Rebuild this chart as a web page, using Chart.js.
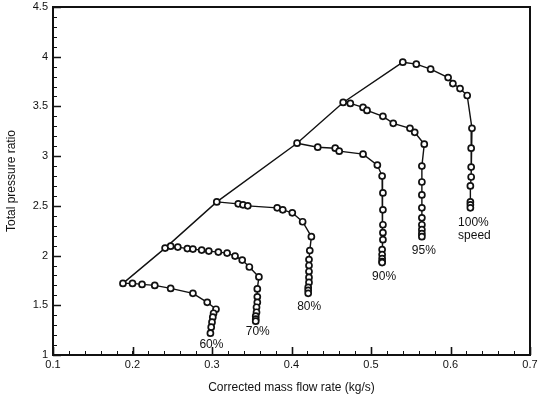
<!DOCTYPE html>
<html>
<head>
<meta charset="utf-8">
<script src="https://cdn.jsdelivr.net/npm/chart.js@4.4.0/dist/chart.umd.min.js"></script>
<style>
  html, body { margin: 0; padding: 0; background: #fff; }
  canvas { display: block; }
</style>
</head>
<body>
<canvas id="map" width="538" height="401"></canvas>
<script>
// Compressor map: total pressure ratio vs corrected mass flow, one line per speed
const speedNames = ['60%', '70%', '80%', '90%', '95%', '100%'];

const flow60  = [0.188, 0.200, 0.212, 0.228, 0.248, 0.276, 0.294, 0.305, 0.302, 0.301, 0.300, 0.299, 0.298];
const ratio60 = [1.72, 1.72, 1.71, 1.70, 1.67, 1.62, 1.53, 1.46, 1.42, 1.38, 1.33, 1.28, 1.22];

const flow70  = [0.241, 0.248, 0.257, 0.269, 0.276, 0.287, 0.296, 0.308, 0.319, 0.329, 0.338, 0.347, 0.359,
                 0.357, 0.357, 0.357, 0.356, 0.356, 0.355, 0.355, 0.355];
const ratio70 = [2.075, 2.095, 2.085, 2.07, 2.065, 2.055, 2.045, 2.035, 2.025, 1.995, 1.955, 1.885, 1.785,
                 1.665, 1.585, 1.53, 1.48, 1.43, 1.39, 1.36, 1.34];

const flow80  = [0.306, 0.333, 0.339, 0.345, 0.382, 0.389, 0.401, 0.414, 0.425, 0.423, 0.422, 0.422, 0.422,
                 0.422, 0.422, 0.421, 0.421, 0.421];
const ratio80 = [2.54, 2.52, 2.51, 2.50, 2.48, 2.46, 2.43, 2.34, 2.19, 2.05, 1.96, 1.90, 1.84,
                 1.78, 1.73, 1.68, 1.65, 1.62];

const flow90  = [0.407, 0.433, 0.455, 0.460, 0.490, 0.508, 0.514, 0.515, 0.515, 0.515, 0.515, 0.515,
                 0.514, 0.514, 0.514, 0.514, 0.514];
const ratio90 = [3.13, 3.09, 3.08, 3.05, 3.02, 2.91, 2.80, 2.63, 2.46, 2.31, 2.23, 2.16,
                 2.06, 2.01, 1.97, 1.94, 1.93];

const flow95  = [0.465, 0.474, 0.490, 0.495, 0.515, 0.528, 0.549, 0.555, 0.567, 0.564, 0.564, 0.564,
                 0.564, 0.564, 0.564, 0.564, 0.564, 0.564];
const ratio95 = [3.54, 3.53, 3.49, 3.46, 3.40, 3.33, 3.28, 3.24, 3.12, 2.90, 2.74, 2.61,
                 2.48, 2.38, 2.31, 2.26, 2.22, 2.19];

const flow100  = [0.540, 0.557, 0.575, 0.597, 0.603, 0.612, 0.621, 0.627, 0.626, 0.626, 0.626,
                  0.625, 0.625, 0.625, 0.625];
const ratio100 = [3.945, 3.925, 3.875, 3.79, 3.73, 3.68, 3.61, 3.28, 3.08, 2.89, 2.79,
                  2.70, 2.54, 2.51, 2.48];

const xTicks = [0.1, 0.2, 0.3, 0.4, 0.5, 0.6, 0.7];
const yTicks = [1, 1.5, 2, 2.5, 3, 3.5, 4, 4.5];

const speedFlows  = [flow60, flow70, flow80, flow90, flow95, flow100];
const speedRatios = [ratio60, ratio70, ratio80, ratio90, ratio95, ratio100];

const toPoints = (xs, ys) => xs.map((x, i) => ({ x: x, y: ys[i] }));

// Surge line joins the first (left-most) point of every speed line
const surgeLine = speedFlows.map((f, i) => ({ x: f[0], y: speedRatios[i][0] }));

const FONT = '"Liberation Sans", Arial, sans-serif';
const INK = '#111';

const datasets = speedFlows.map((f, i) => ({
  label: speedNames[i],
  data: toPoints(f, speedRatios[i]),
  showLine: true,
  borderColor: INK,
  borderWidth: 1.4,
  pointStyle: 'circle',
  pointRadius: 3,
  pointBorderWidth: 1.7,
  pointBorderColor: INK,
  pointBackgroundColor: '#fff',
  tension: 0
}));
datasets.push({
  label: 'surge',
  data: surgeLine,
  showLine: true,
  borderColor: INK,
  borderWidth: 1.4,
  pointRadius: 0,
  tension: 0
});

// Frame, inward major/minor tick marks and the speed captions
const mapDecor = {
  id: 'mapDecor',
  afterDatasetsDraw(chart) {
    const { ctx, chartArea: a, scales: { x, y } } = chart;
    ctx.save();
    ctx.strokeStyle = INK;
    ctx.lineCap = 'butt';

    // minor ticks
    ctx.lineWidth = 1;
    ctx.beginPath();
    for (let v = 0.12; v < 0.7; v += 0.02) {
      const px = Math.round(x.getPixelForValue(v)) + 0.5;
      ctx.moveTo(px, a.bottom); ctx.lineTo(px, a.bottom - 4);
    }
    for (let v = 1.1; v < 4.5; v += 0.1) {
      const py = Math.round(y.getPixelForValue(v)) + 0.5;
      ctx.moveTo(a.left, py); ctx.lineTo(a.left + 4, py);
    }
    ctx.stroke();

    // major ticks
    ctx.lineWidth = 1.6;
    ctx.beginPath();
    x.ticks.forEach(t => {
      const px = Math.round(x.getPixelForValue(t.value)) + 0.5;
      ctx.moveTo(px, a.bottom); ctx.lineTo(px, a.bottom - 8);
    });
    y.ticks.forEach(t => {
      const py = Math.round(y.getPixelForValue(t.value)) + 0.5;
      ctx.moveTo(a.left, py); ctx.lineTo(a.left + 8, py);
    });
    ctx.stroke();

    // frame
    ctx.lineWidth = 2;
    ctx.strokeRect(a.left, a.top, a.right - a.left, a.bottom - a.top);

    // speed captions under the last point of each line
    ctx.fillStyle = INK;
    ctx.font = '12px ' + FONT;
    ctx.textAlign = 'center';
    ctx.textBaseline = 'middle';
    const shift = [[1, 12], [2, 10], [1, 13], [2, 14], [2, 14], [3, 15]];
    speedNames.forEach((name, i) => {
      const meta = chart.getDatasetMeta(i);
      const last = meta.data[meta.data.length - 1];
      const cx = last.x + shift[i][0];
      const cy = last.y + shift[i][1];
      ctx.fillText(name, cx, cy);
      if (i === speedNames.length - 1) ctx.fillText('speed', cx + 1, cy + 13);
    });
    ctx.restore();
  }
};

new Chart(document.getElementById('map'), {
  type: 'scatter',
  data: { datasets: datasets },
  options: {
    responsive: false,
    animation: false,
    devicePixelRatio: 1,
    layout: { padding: { top: 0, right: 0, left: 0, bottom: 0 } },
    plugins: { legend: { display: false }, tooltip: { enabled: false } },
    scales: {
      x: {
        type: 'linear',
        min: xTicks[0],
        max: xTicks[xTicks.length - 1],
        afterBuildTicks: s => { s.ticks = xTicks.map(v => ({ value: v })); },
        afterFit: s => { s.height = 46; s.paddingRight = 8; s.paddingLeft = 0; },
        ticks: {
          color: INK,
          font: { family: FONT, size: 11 },
          padding: 3,
          maxRotation: 0,
          callback: v => Number(v).toFixed(1)
        },
        grid: { display: false, drawTicks: false },
        border: { display: false },
        title: {
          display: true,
          text: 'Corrected mass flow rate (kg/s)',
          color: INK,
          font: { family: FONT, size: 12 },
          padding: { top: 0, bottom: 6 }
        }
      },
      y: {
        type: 'linear',
        min: yTicks[0],
        max: yTicks[yTicks.length - 1],
        afterBuildTicks: s => { s.ticks = yTicks.map(v => ({ value: v })); },
        afterFit: s => { s.width = 53; s.paddingTop = 7; s.paddingBottom = 0; },
        ticks: {
          color: INK,
          font: { family: FONT, size: 11 },
          padding: 5,
          callback: v => (Number.isInteger(v) ? String(v) : Number(v).toFixed(1))
        },
        grid: { display: false, drawTicks: false },
        border: { display: false },
        title: {
          display: true,
          text: 'Total pressure ratio',
          color: INK,
          font: { family: FONT, size: 12 },
          padding: { top: 4, bottom: 0 }
        }
      }
    }
  },
  plugins: [mapDecor]
});
</script>
</body>
</html>
